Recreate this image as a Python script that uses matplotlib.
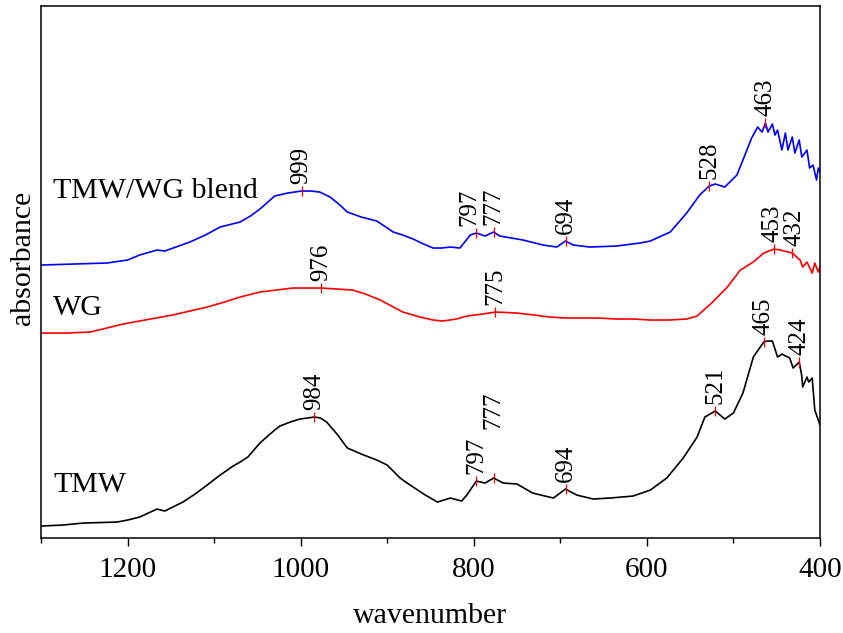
import numpy as np
import matplotlib.pyplot as plt
from matplotlib.ticker import MultipleLocator

plt.rcParams['font.family'] = ['Liberation Serif', 'DejaVu Serif']

# FTIR spectra, wavenumber (cm-1) vs absorbance (offset, arbitrary units)
tmw_wn = [1300, 1275, 1251, 1212, 1200, 1186, 1166, 1157, 1136, 1122, 1108, 1093,
          1078, 1070, 1061, 1047, 1038, 1030, 1024, 1012, 1001, 984, 977, 970, 958,
          946, 930, 912, 900, 885, 877, 870, 856, 842, 827, 814, 808, 797, 787,
          777, 766, 750, 732, 708, 694, 681, 662, 643, 616, 596, 577, 558, 542,
          533, 521, 510, 500, 489, 477, 465, 461, 455, 449, 444, 435, 431, 424,
          421, 420, 415, 413, 409, 406, 400]
tmw_abs = [0.12, 0.13, 0.15, 0.16, 0.18, 0.21, 0.29, 0.27, 0.36, 0.44, 0.53, 0.63,
           0.72, 0.76, 0.81, 0.95, 1.02, 1.08, 1.12, 1.16, 1.19, 1.21, 1.20, 1.16,
           1.04, 0.90, 0.84, 0.78, 0.73, 0.60, 0.55, 0.51, 0.43, 0.36, 0.40, 0.37,
           0.43, 0.57, 0.55, 0.60, 0.55, 0.54, 0.45, 0.40, 0.49, 0.43, 0.39, 0.40,
           0.42, 0.48, 0.60, 0.80, 1.01, 1.21, 1.27, 1.19, 1.25, 1.45, 1.81, 1.96,
           1.97, 1.97, 1.81, 1.84, 1.80, 1.70, 1.76, 1.62, 1.51, 1.61, 1.56, 1.60,
           1.28, 1.13]

wg_wn = [1300, 1270, 1243, 1205, 1180, 1148, 1128, 1108, 1088, 1070, 1047, 1028,
         1009, 976, 958, 940, 925, 908, 895, 882, 862, 847, 836, 820, 808, 790,
         775, 750, 730, 712, 693, 674, 655, 635, 615, 596, 575, 554, 542, 524,
         507, 492, 477, 465, 453, 446, 432, 423, 420, 415, 409, 406, 402, 400]
wg_abs = [2.05, 2.05, 2.06, 2.14, 2.18, 2.23, 2.27, 2.31, 2.36, 2.41, 2.46, 2.48,
          2.50, 2.50, 2.49, 2.48, 2.44, 2.38, 2.32, 2.26, 2.21, 2.18, 2.17, 2.19,
          2.22, 2.24, 2.26, 2.25, 2.23, 2.21, 2.20, 2.20, 2.20, 2.19, 2.19, 2.18,
          2.18, 2.19, 2.22, 2.36, 2.51, 2.68, 2.76, 2.85, 2.89, 2.88, 2.85, 2.78,
          2.71, 2.76, 2.65, 2.75, 2.66, 2.71]

blend_wn = [1300, 1262, 1224, 1200, 1186, 1166, 1157, 1128, 1110, 1093, 1070, 1058,
            1047, 1030, 1015, 999, 988, 978, 966, 956, 946, 930, 912, 893, 882, 870,
            858, 847, 837, 827, 816, 804, 797, 787, 777, 770, 743, 720, 704, 694,
            685, 666, 635, 608, 596, 573, 554, 539, 528, 521, 510, 496, 489, 479,
            472, 467, 463, 460, 455, 452, 449, 444, 440, 437, 432, 429, 424, 421,
            415, 412, 408, 404, 402, 400]
blend_abs = [2.73, 2.74, 2.75, 2.78, 2.83, 2.88, 2.87, 2.96, 3.03, 3.11, 3.16, 3.22,
             3.29, 3.42, 3.45, 3.47, 3.47, 3.46, 3.41, 3.34, 3.26, 3.21, 3.17, 3.06,
             3.03, 2.99, 2.94, 2.90, 2.90, 2.91, 2.90, 3.03, 3.05, 3.02, 3.06, 3.02,
             2.98, 2.93, 2.91, 2.97, 2.93, 2.91, 2.92, 2.95, 2.97, 3.06, 3.25, 3.43,
             3.52, 3.54, 3.51, 3.63, 3.78, 4.00, 4.11, 4.06, 4.15, 4.06, 4.14, 4.03,
             4.08, 3.88, 4.05, 3.88, 4.01, 3.85, 3.98, 3.81, 3.88, 3.70, 3.73, 3.58,
             3.70, 3.66]

# marked peaks for each spectrum
tmw_peaks = [984, 797, 777, 694, 521, 465, 424]
wg_peaks = [976, 775, 453, 432]
blend_peaks = [999, 797, 777, 694, 528, 463]

spectra = [
    ('TMW', tmw_wn, tmw_abs, tmw_peaks, 'black', 0.46),
    ('WG', wg_wn, wg_abs, wg_peaks, 'red', 2.23),
    ('TMW/WG blend', blend_wn, blend_abs, blend_peaks, 'blue', 3.40),
]

# extra label offsets (points) where neighbouring peak labels would collide
label_shift = {('TMW', 777): (0, 30), ('TMW/WG blend', 797): (-5, 0),
               ('WG', 453): (-1.5, 0), ('WG', 432): (1.5, 0)}

fig = plt.figure(figsize=(8.43, 6.33), dpi=100)
ax = fig.add_axes([0.0486, 0.15, 0.9241, 0.8405])

for name, wn, ab, peaks, col, ylab in spectra:
    wn = np.array(wn, dtype=float)
    ab = np.array(ab)
    ax.plot(wn, ab, '-', color=col, lw=1.2)
    ax.text(1286, ylab, name, fontsize=21.5, va='baseline', ha='left')
    for p in peaks:
        y = np.interp(p, wn[::-1], ab[::-1])
        ax.plot(p, y, marker='|', color='red', ms=7, mew=0.9)
        dx, dy = label_shift.get((name, p), (0, 0))
        ax.annotate(str(p), xy=(p, y), xytext=(dx, 5 + dy), textcoords='offset points',
                    rotation=90, ha='center', va='bottom', fontsize=18)

ax.set_xlim(1300, 400)
ax.set_ylim(0, 5.32)
ax.xaxis.set_major_locator(MultipleLocator(200))
ax.xaxis.set_minor_locator(MultipleLocator(100))
ax.tick_params(axis='x', which='major', direction='out', length=6, width=1,
               labelsize=21, pad=8)
ax.tick_params(axis='x', which='minor', direction='out', length=3.5, width=1)
ax.set_yticks([])
for s in ax.spines.values():
    s.set_linewidth(1.1)

ax.set_xlabel('wavenumber', fontsize=21.5, labelpad=14)
ax.set_ylabel('absorbance', fontsize=21.5)
ax.yaxis.set_label_coords(-0.007, 0.526)

fig.savefig('out.png', dpi=100)
